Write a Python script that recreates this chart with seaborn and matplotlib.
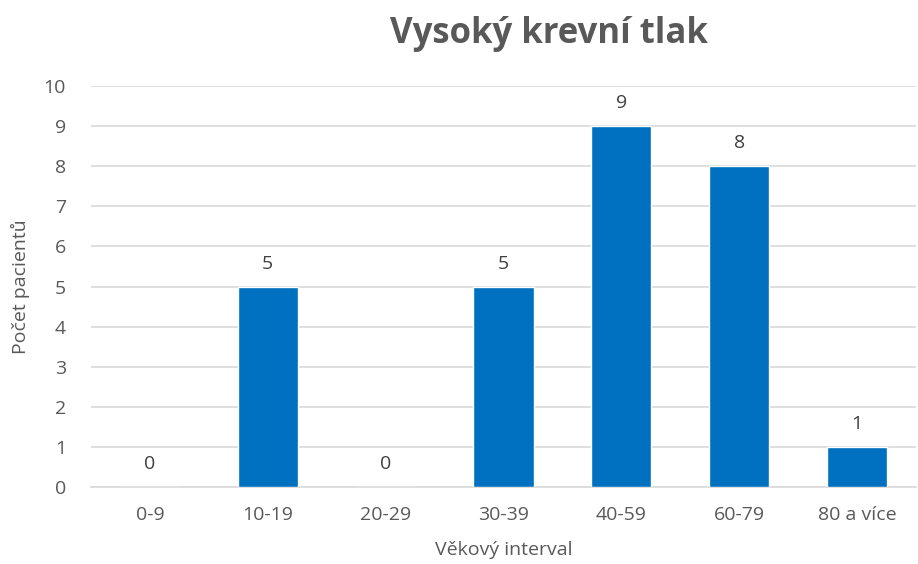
import numpy as np
import pandas as pd
import matplotlib
matplotlib.use("Agg")
import matplotlib.pyplot as plt
import seaborn as sns

# data
age_groups = ["0-9", "10-19", "20-29", "30-39", "40-59", "60-79", "80 a více"]
patients = [0, 5, 0, 5, 9, 8, 1]

title = "Vysoký krevní tlak"
x_label = "Věkový interval"
y_label = "Počet pacientů"

sns.set_theme(style="white")
plt.rcParams['font.family'] = ['Open Sans', 'DejaVu Sans']

gray = "#595959"
bar_color = "#0070C0"
fs = 14

df = pd.DataFrame({"group": age_groups, "count": patients})

fig = plt.figure(figsize=(9.18, 5.64), dpi=100)
ax = fig.add_axes([0.099, 0.1365, 0.899, 0.711])

sns.barplot(data=df, x="group", y="count", color=bar_color, saturation=1,
            width=0.51, ax=ax, zorder=3)

ax.set_ylim(0, 10)
ax.set_yticks(np.arange(0, 11, 1))
ax.yaxis.grid(True, color="#D9D9D9", linewidth=1.2, zorder=0)
ax.set_axisbelow(True)
for s in ["top", "right", "left"]:
    ax.spines[s].set_visible(False)
ax.spines["bottom"].set_color("#D9D9D9")
ax.spines["bottom"].set_linewidth(1.2)
ax.tick_params(axis="both", length=0, labelsize=fs, labelcolor=gray)
ax.tick_params(axis="x", pad=14)
ax.tick_params(axis="y", pad=18)

# value labels above bars
for i, v in enumerate(patients):
    ax.annotate(str(v), (i, v), xytext=(0, 10), textcoords="offset points",
                ha="center", va="bottom", fontsize=fs, color="#404040")

ax.set_xlabel(x_label, fontsize=fs, color=gray, labelpad=12)
ax.set_ylabel(y_label, fontsize=fs, color=gray, labelpad=10)

fig.text(0.598, 0.94, title, ha="center", va="center", fontsize=25,
         fontweight="bold", color=gray)

fig.savefig("out.png", dpi=100)
